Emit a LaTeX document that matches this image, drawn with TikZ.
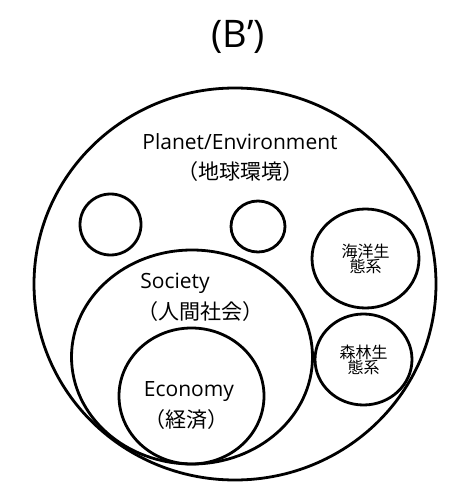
\documentclass[tikz,border=0pt]{standalone}
\usepackage{fontspec}
\setmainfont{Open Sans}
\newfontfamily\jpfont{Noto Sans CJK JP}
\usetikzlibrary{shapes.geometric, positioning}

\begin{document}
\begin{tikzpicture}[x=1pt,y=-1pt,node distance=9pt,
  ring/.style={draw,ellipse,line width=2.8pt,inner sep=0pt},
  txt/.style={inner sep=0pt,font=\fontsize{21}{23}\selectfont},
  jptxt/.style={inner sep=0pt,font=\jpfont\fontsize{21}{23}\selectfont},
  smalljp/.style={inner sep=0pt,align=center,font=\jpfont\fontsize{16}{15}\selectfont}]
\useasboundingbox (0,0) rectangle (470,494);
\node[inner sep=0pt,font=\fontsize{38}{40}\selectfont] (title) at (238,37) {(B’)};
\node[ring,minimum width=402pt,minimum height=392pt] (planet) at (235,284) {};
\node[ring,minimum width=61pt,minimum height=61pt] (blank1) at (110.5,224.5) {};
\node[ring,minimum width=54pt,minimum height=51pt] (blank2) at (258,226.5) {};
\node[ring,minimum width=107pt,minimum height=99pt] (ocean) at (365.5,258.5) {};
\node[ring,minimum width=97pt,minimum height=91pt] (forest) at (363.5,359.5) {};
\node[ring,minimum width=241pt,minimum height=214pt] (society) at (192,357) {};
\node[ring,minimum width=145pt,minimum height=136pt] (economy) at (191.5,396) {};
\node[txt] (planetname) at (240,142) {Planet/Environment};
\node[jptxt] (planetjp) at (240,172) {（地球環境）};
\node[txt] (societyname) at (175,283) {Society};
\node[jptxt] (societyjp) at (200,312) {（人間社会）};
\node[txt] (economyname) at (189,392) {Economy};
\node[jptxt] (economyjp) at (186,420) {（経済）};
\node[smalljp] (oceanname) at (ocean.center) {海洋生\\態系};
\node[smalljp] (forestname) at (forest.center) {森林生\\態系};
\end{tikzpicture}
\end{document}
